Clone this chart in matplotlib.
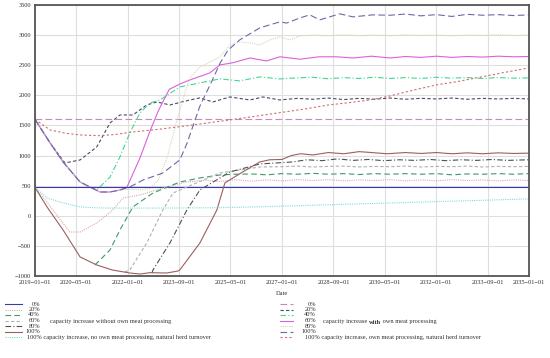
import numpy as np
import pandas as pd
import matplotlib
matplotlib.use("Agg")
import matplotlib.pyplot as plt
from matplotlib.lines import Line2D

plt.rcParams["font.family"] = ["Liberation Serif", "DejaVu Serif"]

# ------------------------------
# DATA (time in years since 2019-01-01)
# ------------------------------

# capacity increase without own meat processing
wo_0_t = [0, 16]
wo_0_v = [470, 470]

wo_20_t = [0, 0.4, 0.9, 1.13, 1.46, 2.0, 2.52, 2.85, 3.4, 4.14, 4.9, 5.5, 6.0, 6.5, 7, 7.5, 8, 8.5,
           9, 9.5, 10, 10.5, 11, 11.5, 12, 12.5, 13, 13.5, 14, 14.5, 15, 15.5, 16]
wo_20_v = [470, 220, -120, -270, -270, -120, 96, 295, 345, 461, 560, 590, 570, 600, 575, 595, 580, 600,
           585, 600, 580, 595, 585, 600, 580, 595, 580, 600, 585, 595, 580, 595, 585]

wo_40_t = [1.94, 2.43, 2.75, 3.17, 3.82, 4.69, 5.34, 5.99, 6.5, 7.06, 7.5, 8, 8.5, 9, 9.5, 10, 10.5,
           11, 11.5, 12, 12.5, 13, 13.5, 14, 14.5, 15, 15.5, 16]
wo_40_v = [-817, -568, -236, 146, 378, 561, 628, 678, 690, 694, 680, 700, 690, 705, 690, 700, 685,
           700, 690, 700, 690, 700, 680, 695, 690, 700, 690, 700]

wo_60_t = [2.91, 3.07, 3.62, 4.14, 4.47, 4.92, 5.99, 7.28, 8, 8.5, 9, 9.5, 10, 10.5, 11, 11.5, 12,
           12.5, 13, 13.5, 14, 14.5, 15, 15.5, 16]
wo_60_v = [-934, -900, -452, 96, 378, 478, 710, 810, 815, 825, 810, 820, 825, 810, 820, 815, 825,
           810, 820, 815, 825, 810, 820, 815, 820]

wo_80_t = [3.79, 3.82, 4.37, 4.92, 5.34, 6.31, 7.28, 8.35, 8.8, 9.3, 9.8, 10.3, 10.8, 11.3, 11.8,
           12.3, 12.8, 13.3, 13.8, 14.3, 14.8, 15.3, 16]
wo_80_v = [-950, -900, -452, 96, 428, 727, 860, 894, 930, 915, 945, 920, 935, 915, 930, 920, 935,
           915, 930, 920, 935, 920, 930]

wo_100_t = [0, 0.39, 0.91, 1.46, 2.0, 2.5, 3.07, 3.4, 3.72, 4.27, 4.63, 4.69, 5.34, 5.89, 6.15, 6.7,
            7.28, 7.6, 8.0, 8.3, 8.6, 9.0, 9.5, 10.0, 10.5, 10.9, 11.4, 12, 12.5, 13, 13.5, 14,
            14.5, 15, 15.5, 16]
wo_100_v = [470, 146, -236, -684, -817, -900, -950, -967, -945, -950, -917, -900, -452, 96, 545, 720,
            894, 930, 935, 1000, 1030, 1010, 1050, 1030, 1065, 1050, 1030, 1050, 1035, 1050, 1030,
            1045, 1030, 1045, 1035, 1040]

wo_nat_t = [0, 0.39, 0.91, 1.46, 2.1, 2.5, 3, 4, 5, 6, 7, 8, 9, 10, 11, 12, 13, 14, 15, 16]
wo_nat_v = [470, 295, 213, 146, 130, 128, 128, 128, 130, 135, 145, 160, 175, 190, 205, 220, 235,
            250, 265, 280]

# capacity increase with own meat processing
w_0_t = [0, 16]
w_0_v = [1600, 1600]

w_20_t = [0, 0.49, 0.97, 1.46, 2.0, 2.43, 2.75, 3.17, 3.62, 3.95, 4.37, 5.02, 5.34, 5.76, 6.31,
          6.96, 7.38, 7.93, 8.5, 9, 9.5, 10, 10.5, 11, 11.5, 12, 12.5, 13, 13.5, 14, 14.5, 15,
          15.5, 16]
w_20_v = [1600, 1209, 877, 927, 1143, 1541, 1674, 1674, 1840, 1890, 1840, 1923, 1957, 1890, 1973,
          1923, 1973, 1923, 1950, 1935, 1955, 1930, 1950, 1935, 1955, 1935, 1950, 1940, 1955, 1935,
          1950, 1940, 1950, 1940]

w_40_t = [0, 0.49, 0.91, 1.46, 1.78, 2.0, 2.43, 2.75, 3.07, 3.4, 3.72, 4.05, 4.69, 5.34, 5.99,
          6.63, 7.28, 7.93, 8.5, 9, 9.5, 10, 10.5, 11, 11.5, 12, 12.5, 13, 13.5, 14, 14.5, 15,
          15.5, 16]
w_40_v = [1600, 1209, 893, 561, 478, 428, 644, 977, 1375, 1707, 1873, 1923, 2140, 2206, 2273,
          2240, 2306, 2273, 2290, 2300, 2275, 2295, 2280, 2300, 2280, 2295, 2280, 2300, 2285, 2295,
          2280, 2295, 2285, 2290]

w_60_t = [0, 0.49, 0.91, 1.46, 1.78, 2.1, 2.43, 2.75, 2.98, 3.4, 3.72, 4.0, 4.35, 4.7, 5.02, 5.66,
          5.99, 6.4, 6.96, 7.5, 7.93, 8.58, 9.2, 9.77, 10.3, 10.9, 11.5, 12, 12.5, 13, 13.5, 14,
          14.5, 15, 15.5, 16]
w_60_v = [1600, 1209, 893, 561, 478, 395, 395, 428, 478, 960, 1400, 1750, 2100, 2190, 2256, 2372,
          2505, 2540, 2620, 2571, 2640, 2600, 2640, 2640, 2620, 2650, 2620, 2645, 2630, 2650, 2630,
          2645, 2635, 2650, 2640, 2645]

w_80_t = [0, 0.49, 0.91, 1.46, 1.78, 2.1, 2.43, 2.75, 3.07, 3.4, 3.72, 4.0, 4.3, 4.55, 4.8, 5.0,
          5.34, 5.99, 6.31, 6.63, 7.0, 7.28, 7.6, 7.93, 8.25, 8.6, 9, 9.5, 10, 10.5, 11, 11.5, 12,
          12.5, 13, 13.5, 14, 14.5, 15, 15.5, 16]
w_80_v = [1600, 1209, 893, 561, 478, 395, 395, 428, 440, 430, 450, 600, 1000, 1500, 1950, 2280,
          2470, 2638, 2837, 2887, 2870, 2837, 2920, 2970, 2920, 2990, 3000, 2990, 3005, 2990, 3000,
          2990, 3005, 2995, 3000, 2990, 3000, 2995, 3005, 2995, 3000]

w_100_t = [0, 0.49, 0.91, 1.46, 1.78, 2.1, 2.43, 2.75, 3.07, 3.5, 4.14, 4.69, 4.92, 5.34, 5.7,
           6.0, 6.25, 6.63, 7.28, 7.93, 8.15, 8.58, 8.9, 9.22, 9.87, 10.3, 10.94, 11.5, 12, 12.5,
           13, 13.5, 14, 14.5, 15, 15.5, 16]
w_100_v = [1600, 1209, 893, 561, 478, 395, 395, 428, 478, 594, 710, 927, 1200, 1820, 2206, 2540,
           2750, 2920, 3120, 3220, 3200, 3285, 3336, 3253, 3353, 3303, 3336, 3330, 3350, 3320,
           3340, 3310, 3345, 3330, 3340, 3325, 3336]

w_nat_t = [0, 0.49, 1.0, 1.46, 2.1, 2.6, 3.17, 3.9, 4.7, 5.5, 6.3, 7.1, 7.93, 8.7, 9.5, 10.2,
           10.84, 11.5, 12.2, 13, 13.7, 14.4, 15.2, 16]
w_nat_v = [1600, 1425, 1370, 1342, 1330, 1350, 1392, 1430, 1480, 1535, 1591, 1650, 1712, 1770,
           1840, 1880, 1923, 1990, 2080, 2173, 2230, 2300, 2380, 2455]

pct_labels = ["0%", "20%", "40%", "60%", "80%", "100%"]
tick_dates = ["2019-01-01", "2020-05-01", "2022-01-01", "2023-09-01", "2025-05-01", "2027-01-01",
              "2028-09-01", "2030-05-01", "2032-01-01", "2033-09-01", "2035-01-01"]
y_ticks = [-1000, -500, 0, 500, 1000, 1500, 2000, 2500, 3000, 3500]

start = pd.Timestamp("2019-01-01")


def to_dates(t):
    return start + pd.to_timedelta(np.array(t) * 365.25, unit="D")


# series: (t, v, color, dashes)  dashes None = solid
without = [
    (wo_0_t, wo_0_v, "#3a3aa8", None),
    (wo_20_t, wo_20_v, "#dcaaaa", (1, 1)),
    (wo_40_t, wo_40_v, "#3d9a6a", (5, 3)),
    (wo_60_t, wo_60_v, "#b0b0b0", (3, 2)),
    (wo_80_t, wo_80_v, "#505050", (5, 2, 1, 2)),
    (wo_100_t, wo_100_v, "#9a6060", None),
]
wo_nat = (wo_nat_t, wo_nat_v, "#80dcdc", (1, 1))

with_ = [
    (w_0_t, w_0_v, "#c888b8", (6, 3)),
    (w_20_t, w_20_v, "#4a4a66", (3, 2)),
    (w_40_t, w_40_v, "#40d890", (5, 2, 1, 2)),
    (w_60_t, w_60_v, "#dc60dc", None),
    (w_80_t, w_80_v, "#d6d6b8", (1, 1)),
    (w_100_t, w_100_v, "#6a6aaa", (6, 3)),
]
w_nat = (w_nat_t, w_nat_v, "#cc7070", (2, 2))

fig = plt.figure(figsize=(5.5, 3.58), dpi=100)
ax = fig.add_axes([35 / 550, 1 - 276 / 358, (529 - 35) / 550, (276 - 5) / 358])


def draw(s):
    t, v, c, d = s
    ln, = ax.plot(to_dates(t), v, color=c, lw=0.8)
    if d is not None:
        ln.set_dashes(d)


for s in with_ + [w_nat] + without + [wo_nat]:
    draw(s)

ax.set_xlim(pd.Timestamp("2019-01-01"), pd.Timestamp("2035-01-01"))
ax.set_ylim(-1000, 3500)
ax.set_xticks(pd.to_datetime(tick_dates))
ax.set_xticklabels([d.replace("-", "\u2212") for d in tick_dates])
ax.set_yticks(y_ticks)
ax.set_yticklabels([str(y).replace("-", "\u2212") for y in y_ticks])
ax.tick_params(labelsize=4.6, length=0, pad=3, colors="#333333")
ax.grid(color="#dedede", lw=0.8)
ax.set_axisbelow(True)
for sp in ax.spines.values():
    sp.set_color("#555555")
    sp.set_linewidth(1.3)
ax.set_xlabel("Date", fontsize=4.6, labelpad=4, color="#333333")

# ------------------------------
# LEGEND (drawn by hand, two groups)
# ------------------------------


def fx(px):
    return px / 550


def fy(py):
    return 1 - py / 358


row_y = [304, 309.5, 315, 320.5, 326, 331.5, 337]


def legend_group(series, nat, x0, x1, xlab, xnat, text_parts, xtext):
    for i, s in enumerate(series + [nat]):
        t, v, c, d = s
        ln = Line2D([fx(x0), fx(x1)], [fy(row_y[i])] * 2, color=c, lw=0.8,
                    transform=fig.transFigure)
        if d is not None:
            ln.set_dashes(d)
        fig.add_artist(ln)
        if i < 6:
            fig.text(fx(xlab), fy(row_y[i]), pct_labels[i], ha="right", va="center",
                     fontsize=4.6, color="#333333")
    x = fx(xtext)
    tx = None
    for part, weight in text_parts:
        tx = fig.text(x, fy(322), part, ha="left", va="center", fontsize=4.6,
                      color="#333333", fontweight=weight)
        fig.canvas.draw()
        bb = tx.get_window_extent()
        x = bb.x1 / fig.bbox.width


legend_group(without, wo_nat, 5, 22, 40, 27,
             [("capacity increase without own meat processing", "normal")], 50)
fig.text(fx(27), fy(row_y[6]), "100% capacity increase, no own meat processing, natural herd turnover",
         ha="left", va="center", fontsize=4.6, color="#333333")

legend_group(with_, w_nat, 280, 293, 316, 305,
             [("capacity increase ", "normal"), ("with", "bold"),
              (" own meat processing", "normal")], 323)
fig.text(fx(305), fy(row_y[6]), "100% capacity increase, own meat processing, natural herd turnover",
         ha="left", va="center", fontsize=4.6, color="#333333")

fig.savefig("out.png", dpi=100)
